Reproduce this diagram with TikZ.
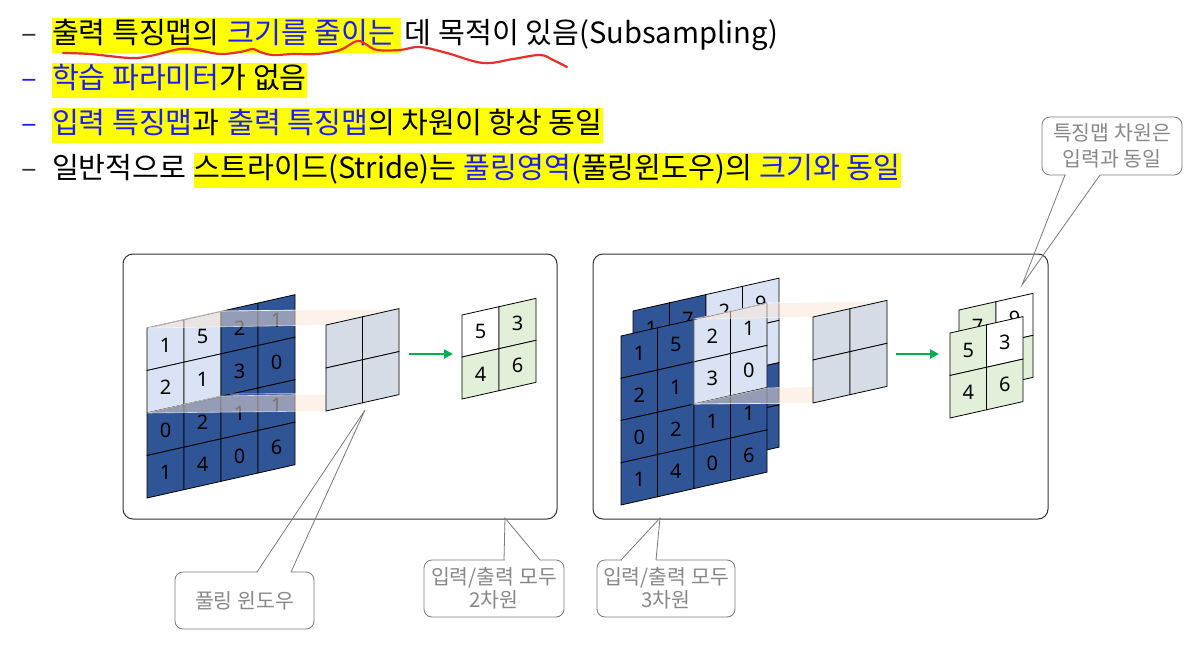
\documentclass[tikz,border=0pt]{standalone}
\usepackage{fontspec}
\setmainfont{Noto Sans CJK KR}
\newfontfamily\numfont{Noto Sans}
\usetikzlibrary{arrows.meta}
\definecolor{dblue}{HTML}{2F5597}
\definecolor{lblue}{HTML}{DAE3F3}
\definecolor{pgray}{HTML}{D6DCE5}
\definecolor{lgreen}{HTML}{E2F0D9}
\definecolor{arrgreen}{HTML}{00B050}
\definecolor{hlyellow}{HTML}{FFFF00}
\definecolor{txtblue}{HTML}{1C1CF5}
\definecolor{calgray}{HTML}{888888}
\definecolor{calline}{HTML}{7A7A7A}
\definecolor{peach}{HTML}{FBE6D6}
\definecolor{redink}{HTML}{E8302A}
\definecolor{panelc}{HTML}{333333}
\newcommand\mainfs{\fontsize{29.2pt}{34pt}\selectfont}
\newcommand\calfs{\fontsize{20.5pt}{23pt}\selectfont}
\newcommand\digfs{\numfont\fontsize{20pt}{22pt}\selectfont}
\newcommand\wsp{\kern0.26em}
\newcommand\gridcell[4]{%
  \filldraw[cellb, fill=#3] ({#1*\cw},{#2*\ch}) rectangle ({(#1+1)*\cw},{(#2+1)*\ch});
  \node[digit] (\gid-#1-#2) at ({(#1+0.5)*\cw},{(#2+0.5)*\ch}) {#4};}
\begin{document}
\begin{tikzpicture}[x=1pt,y=-1pt,
  seg/.style={inner sep=0pt, outer sep=0pt, anchor=base west, font=\mainfs},
  hl/.style={fill=hlyellow, text height=26pt, text depth=9pt},
  cellb/.style={draw=black, line width=0.8pt},
  digit/.style={inner sep=0pt, font=\digfs, text=black},
  panel/.style={draw=panelc, line width=1pt, rounded corners=10pt},
  face/.style={fill=peach, fill opacity=0.5, draw=white, draw opacity=0.7, line width=0.6pt},
  arr/.style={draw=arrgreen, line width=2pt, -{Triangle[length=9pt,width=9pt]}},
  callbox/.style={draw=calline, line width=0.8pt, rounded corners=8pt, fill=white, text=calgray, font=\calfs, align=center, inner sep=0pt},
  callline/.style={draw=calline, line width=0.8pt}]
\useasboundingbox[fill=white] (0,0) rectangle (1203,648);

% ---------- text lines ----------
\node[seg, text=black!80] (d1) at (21,43.6) {–};
\node[seg, hl] (l1a) at (52,43.6) {출력 특징맵의\wsp};
\node[seg, hl, text=txtblue] (l1b) at (l1a.base east) {크기를 줄이는\kern0.22em};
\node[seg] (l1c) at (l1b.base east) {\kern0.12em 데 목적이 있음(Subsampling)};

\node[seg, text=txtblue] (d2) at (21,88.6) {–};
\node[seg, hl, text=txtblue] (l2a) at (52,88.6) {학습 파라미터};
\node[seg, hl] (l2b) at (l2a.base east) {가 없음};

\node[seg, text=txtblue] (d3) at (21,133.6) {–};
\node[seg, hl, text=txtblue] (l3a) at (52,133.6) {입력 특징맵};
\node[seg, hl] (l3b) at (l3a.base east) {과\wsp};
\node[seg, hl, text=txtblue] (l3c) at (l3b.base east) {출력 특징맵};
\node[seg, hl] (l3d) at (l3c.base east) {의 차원이 항상 동일};

\node[seg, text=black!80] (d4) at (21,178.6) {–};
\node[seg] (l4a) at (52,178.6) {일반적으로\wsp};
\node[seg, hl] (l4b) at (l4a.base east) {스트라이드(Stride)는\wsp};
\node[seg, hl, text=txtblue] (l4c) at (l4b.base east) {풀링영역};
\node[seg, hl] (l4d) at (l4c.base east) {(풀링윈도우)의\wsp};
\node[seg, hl, text=txtblue] (l4e) at (l4d.base east) {크기와 동일};

% red squiggle
\draw[redink, line width=2.2pt, line cap=round, line join=round]
  plot[smooth, tension=0.6] coordinates {(63,53) (90,54) (130,58) (150,56) (180,49) (197,50) (220,54) (240,52) (253,49) (260,52) (273,55) (293,54) (317,54) (340,50) (357,41) (367,45) (377,50) (400,50) (420,47) (447,53) (483,63) (513,59) (540,55) (553,60) (567,67)};

% ---------- panels ----------
\draw[panel] (123,254) rectangle (557,519);
\draw[panel] (593,254) rectangle (1048,519);

% ---------- left panel ----------
\begin{scope}[shift={(147,328)}, yslant=0.225]
  \def\cw{37}\def\ch{42.5}\def\gid{li}
  \foreach \i/\j/\f/\t in {0/0/lblue/1, 1/0/lblue/5, 2/0/dblue/2, 3/0/dblue/1,
     0/1/lblue/2, 1/1/lblue/1, 2/1/dblue/3, 3/1/dblue/0,
     0/2/dblue/0, 1/2/dblue/2, 2/2/dblue/1, 3/2/dblue/1,
     0/3/dblue/1, 1/3/dblue/4, 2/3/dblue/0, 3/3/dblue/6}{\gridcell{\i}{\j}{\f}{\t}}
\end{scope}
\fill[face] (147,328) -- (221,311) -- (399,309) -- (326,325) -- cycle;
\fill[face] (147,413) -- (221,396) -- (399,393) -- (326,411) -- cycle;
\draw[face, fill opacity=0] (221,311) -- (399,309) (230,394) -- (399,393);
\begin{scope}[shift={(326,325)}, yslant=0.225]
  \def\cw{36.5}\def\ch{43}\def\gid{lp}
  \foreach \i/\j in {0/0,1/0,0/1,1/1}{\gridcell{\i}{\j}{pgray}{}}
\end{scope}
\begin{scope}[shift={(462,315)}, yslant=0.225]
  \def\cw{37}\def\ch{42}\def\gid{lo}
  \foreach \i/\j/\f/\t in {0/0/white/5, 1/0/lgreen/3, 0/1/lgreen/4, 1/1/lgreen/6}{\gridcell{\i}{\j}{\f}{\t}}
\end{scope}
\coordinate (la1) at (409,354); \coordinate (la2) at (453,354);
\draw[arr] (la1) -- (la2);

% ---------- right panel ----------
\begin{scope}[shift={(633,311)}, yslant=0.225]
  \def\cw{36.5}\def\ch{42.25}\def\gid{rb}
  \foreach \i/\j/\f/\t in {0/0/dblue/1, 1/0/dblue/7, 2/0/lblue/2, 3/0/lblue/9,
     0/1/dblue/{}, 1/1/dblue/{}, 2/1/lblue/{}, 3/1/lblue/{},
     0/2/dblue/{}, 1/2/dblue/{}, 2/2/dblue/{}, 3/2/dblue/{},
     0/3/dblue/{}, 1/3/dblue/{}, 2/3/dblue/{}, 3/3/dblue/{}}{\gridcell{\i}{\j}{\f}{\t}}
\end{scope}
\begin{scope}[shift={(621,336)}, yslant=0.225]
  \def\cw{36.5}\def\ch{42.25}\def\gid{rf}
  \foreach \i/\j/\f/\t in {0/0/dblue/1, 1/0/dblue/5, 2/0/lblue/2, 3/0/lblue/1,
     0/1/dblue/2, 1/1/dblue/1, 2/1/lblue/3, 3/1/lblue/0,
     0/2/dblue/0, 1/2/dblue/2, 2/2/dblue/1, 3/2/dblue/1,
     0/3/dblue/1, 1/3/dblue/4, 2/3/dblue/0, 3/3/dblue/6}{\gridcell{\i}{\j}{\f}{\t}}
\end{scope}
\fill[face] (694,319) -- (767,303) -- (887,301) -- (813,317) -- cycle;
\fill[face] (694,404) -- (767,388) -- (887,385) -- (813,403) -- cycle;
\draw[face, fill opacity=0] (694,319) -- (694,404) (767,303) -- (887,301) (694,404) -- (813,403);
\begin{scope}[shift={(813,317)}, yslant=0.225]
  \def\cw{37}\def\ch{43}\def\gid{rp}
  \foreach \i/\j in {0/0,1/0,0/1,1/1}{\gridcell{\i}{\j}{pgray}{}}
\end{scope}
\begin{scope}[shift={(959,310)}, yslant=0.225]
  \def\cw{37}\def\ch{42}\def\gid{rob}
  \foreach \i/\j/\f/\t in {0/0/lgreen/7, 1/0/white/9, 0/1/lgreen/{}, 1/1/lgreen/{}}{\gridcell{\i}{\j}{\f}{\t}}
\end{scope}
\begin{scope}[shift={(950,333)}, yslant=0.225]
  \def\cw{36.5}\def\ch{42.5}\def\gid{rof}
  \foreach \i/\j/\f/\t in {0/0/lgreen/5, 1/0/white/3, 0/1/lgreen/4, 1/1/lgreen/6}{\gridcell{\i}{\j}{\f}{\t}}
\end{scope}
\coordinate (ra1) at (896,354); \coordinate (ra2) at (939,354);
\draw[arr] (ra1) -- (ra2);

% ---------- callouts ----------
\node[callbox, minimum width=139pt, minimum height=57pt] (cpw) at (244.5,600.5) {풀링 윈도우};
\coordinate (cpw-tip) at (365,410);
\coordinate (cpw-b1) at (257,572); \coordinate (cpw-b2) at (291,572);
\draw[white, line width=1.8pt] ([xshift=0.5pt]cpw-b1) -- ([xshift=-0.5pt]cpw-b2);
\draw[callline] (cpw-b1) -- (cpw-tip) -- (cpw-b2);

\node[callbox, minimum width=140pt, minimum height=57pt] (c2d) at (494,588.5) {입력/출력 모두\\2차원};
\coordinate (c2d-tip) at (505,518);
\coordinate (c2d-b1) at (504,560); \coordinate (c2d-b2) at (540,560);
\draw[white, line width=1.8pt] ([xshift=0.5pt]c2d-b1) -- ([xshift=-0.5pt]c2d-b2);
\draw[callline] (c2d-b1) -- (c2d-tip) -- (c2d-b2);

\node[callbox, minimum width=138pt, minimum height=57pt] (c3d) at (666,588.5) {입력/출력 모두\\3차원};
\coordinate (c3d-tip) at (660,518);
\coordinate (c3d-b1) at (621,560); \coordinate (c3d-b2) at (656,560);
\draw[white, line width=1.8pt] ([xshift=0.5pt]c3d-b1) -- ([xshift=-0.5pt]c3d-b2);
\draw[callline] (c3d-b1) -- (c3d-tip) -- (c3d-b2);

\node[callbox, minimum width=140pt, minimum height=58pt, font=\fontsize{20.5pt}{26pt}\selectfont] (cfm) at (1112,146) {특징맵 차원은\\입력과 동일};
\coordinate (cfm-tip) at (1022,285);
\coordinate (cfm-b1) at (1065,175); \coordinate (cfm-b2) at (1100,175);
\draw[white, line width=1.8pt] ([xshift=0.5pt]cfm-b1) -- ([xshift=-0.5pt]cfm-b2);
\draw[callline] (cfm-b1) -- (cfm-tip) -- (cfm-b2);
\end{tikzpicture}
\end{document}
